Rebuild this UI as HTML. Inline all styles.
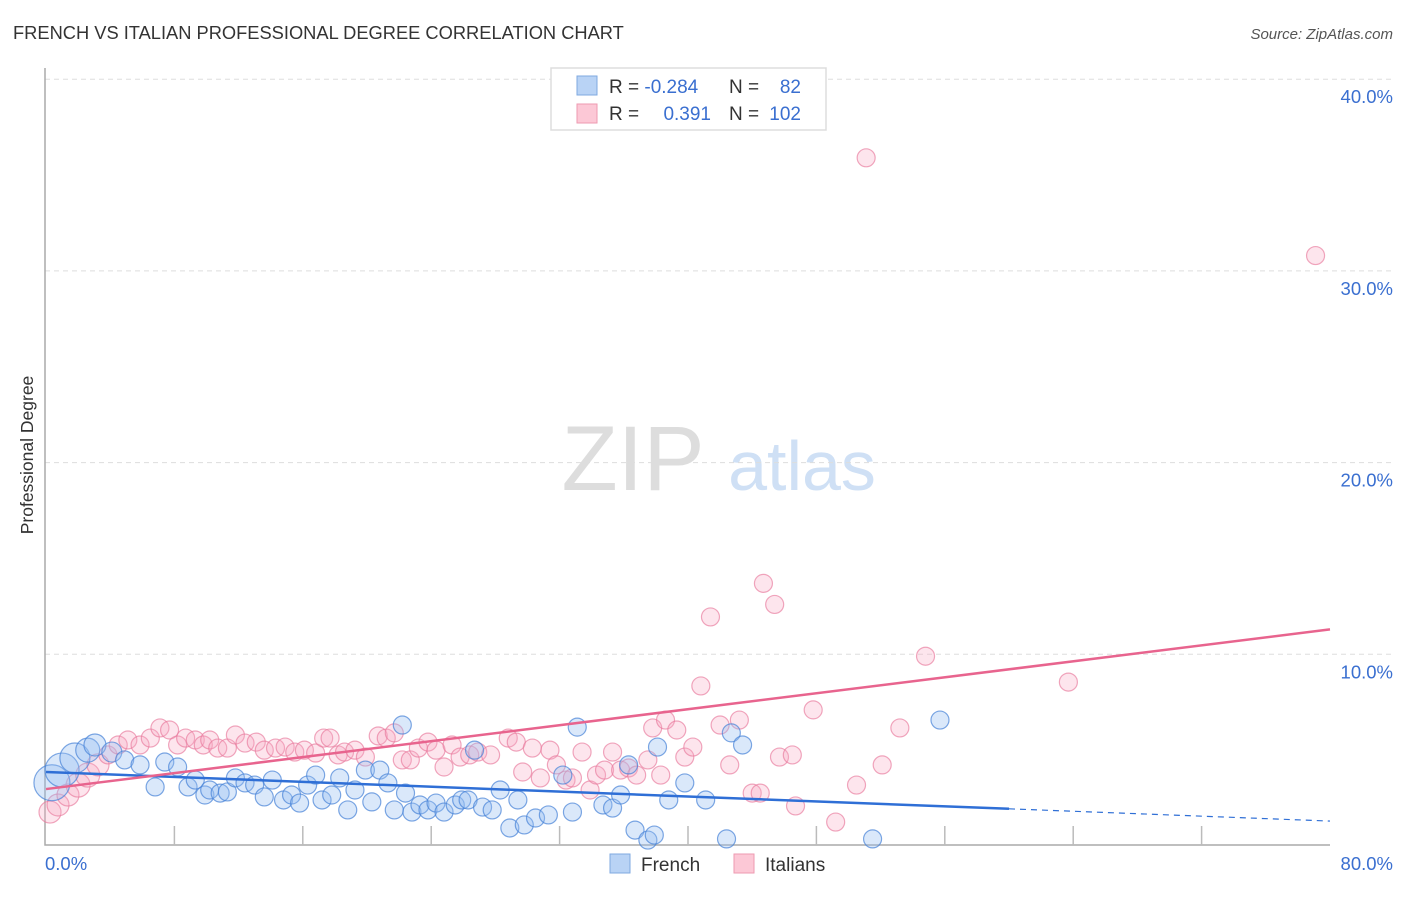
<!DOCTYPE html>
<html><head><meta charset="utf-8">
<style>
body{margin:0;background:#fff;font-family:"Liberation Sans",sans-serif;}
svg text{font-family:"Liberation Sans",sans-serif;}
</style></head>
<body>
<svg id="chart" width="1406" height="892" xmlns="http://www.w3.org/2000/svg">
<text x="13" y="39" font-size="18.3" fill="#333">FRENCH VS ITALIAN PROFESSIONAL DEGREE CORRELATION CHART</text>
<text x="1393" y="39" font-size="15" fill="#555" text-anchor="end" font-style="italic">Source: ZipAtlas.com</text>
<g>
<text x="633" y="490" font-size="92" fill="#ddd" text-anchor="middle" font-family="Liberation Serif">ZIP</text>
<text x="802" y="490" font-size="70" fill="#cfe0f5" text-anchor="middle">atlas</text>
</g>
<g id="grid"></g>
<g id="axes"></g>
<g id="points"></g>
<g id="trends"></g>
<text transform="translate(33,455) rotate(-90)" font-size="17.5" fill="#333" text-anchor="middle">Professional Degree</text>
<g>
<rect x="551" y="68" width="275" height="62" fill="#fff" stroke="#ddd" stroke-width="1.5"/>
<rect x="577" y="76" width="20" height="19" fill="#b9d3f5" stroke="#7fa9e0"/>
<rect x="577" y="104" width="20" height="19" fill="#fcc8d6" stroke="#ee9ab0"/>
<text x="609" y="93" font-size="19" fill="#333">R = <tspan fill="#3a6fd0">-0.284</tspan></text>
<text x="729" y="93" font-size="19" fill="#333">N = </text><text x="801" y="93" font-size="19" fill="#3a6fd0" text-anchor="end">82</text>
<text x="609" y="120" font-size="19" fill="#333">R = </text><text x="711" y="120" font-size="19" fill="#3a6fd0" text-anchor="end">0.391</text>
<text x="729" y="120" font-size="19" fill="#333">N = </text><text x="801" y="120" font-size="19" fill="#3a6fd0" text-anchor="end">102</text>
</g>
<g>
<rect x="610" y="854" width="20" height="19" fill="#b9d3f5" stroke="#7fa9e0"/>
<text x="641" y="871" font-size="19" fill="#333">French</text>
<rect x="734" y="854" width="20" height="19" fill="#fcc8d6" stroke="#ee9ab0"/>
<text x="765" y="871" font-size="19" fill="#333">Italians</text>
</g>
</svg>
<script>
const yTicks=[10,20,30,40];
const yTickLabels=["10.0%","20.0%","30.0%","40.0%"];
const xTickLabels=["0.0%","80.0%"];
const frenchX=[0.37,1.0,1.8,2.6,3.05,4.1,4.9,5.86,6.8,7.4,8.2,8.85,9.3,9.9,10.2,10.85,11.3,11.8,12.4,13.0,13.6,14.1,14.8,15.3,15.8,16.3,16.8,17.2,17.8,18.3,18.8,19.25,19.9,20.3,20.8,21.3,21.7,22.2,22.4,22.8,23.3,23.8,24.3,24.8,25.5,25.9,26.3,26.7,27.2,27.8,28.3,28.9,29.4,29.8,30.5,31.3,32.2,32.8,33.1,34.7,35.3,35.8,36.3,36.7,37.5,37.9,38.1,38.8,39.8,41.1,42.4,42.7,43.4,51.5,55.7];
const frenchY=[3.3,3.96,4.59,5.0,5.27,4.9,4.49,4.23,3.08,4.38,4.12,3.08,3.44,2.66,2.92,2.76,2.82,3.55,3.29,3.18,2.56,3.44,2.4,2.66,2.24,3.18,3.7,2.4,2.66,3.55,1.88,2.92,3.96,2.3,3.96,3.29,1.88,6.31,2.76,1.77,2.14,1.88,2.24,1.77,2.14,2.4,2.4,5.0,2.03,1.88,2.92,0.94,2.4,1.1,1.46,1.62,3.7,1.77,6.2,2.14,1.98,2.66,4.23,0.83,0.31,0.57,5.16,2.4,3.29,2.4,0.37,5.9,5.27,0.37,6.57];
const frenchR=[18,17,15,12,11,10];
const italX=[0.25,0.75,1.37,2.0,2.6,3.24,3.86,4.5,5.1,5.86,6.5,7.1,7.7,8.2,8.7,9.3,9.8,10.2,10.7,11.3,11.8,12.4,13.1,13.6,14.3,14.9,15.5,16.1,16.8,17.3,17.7,18.2,18.6,19.25,19.9,20.7,21.2,21.7,22.2,22.7,23.2,23.8,24.3,24.8,25.3,25.8,26.4,26.9,27.7,28.8,29.3,29.7,30.3,30.8,31.4,31.8,32.4,32.8,33.4,33.9,34.3,34.8,35.3,35.8,36.3,36.8,37.5,37.8,38.3,38.6,39.3,39.8,40.3,40.8,41.4,42.0,42.6,43.2,44.0,44.5,44.7,45.4,45.7,46.5,46.7,47.8,49.2,50.5,51.1,52.1,53.2,54.8,63.7,79.1];
const italY=[1.77,2.14,2.66,3.18,3.7,4.23,4.75,5.27,5.53,5.27,5.63,6.16,6.05,5.27,5.63,5.53,5.27,5.53,5.11,5.11,5.79,5.37,5.42,5.0,5.11,5.16,4.9,5.0,4.85,5.63,5.63,4.75,4.9,5.0,4.64,5.74,5.63,5.9,4.49,4.49,5.11,5.42,5.0,4.12,5.27,4.64,4.75,4.9,4.75,5.63,5.42,3.86,5.11,3.55,5.0,4.23,3.44,3.55,4.9,2.92,3.7,3.96,4.9,3.96,4.07,3.7,4.49,6.16,3.7,6.57,6.05,4.64,5.16,8.35,11.95,6.31,4.23,6.57,2.76,2.76,13.7,12.6,4.64,4.75,2.09,7.1,1.25,3.18,35.9,4.23,6.16,9.9,8.55,30.8];
const italR=[11,11,11,12,12,11];
const frenchTrend=[3.86,1.30];
const italTrend=[2.97,11.3];
const frenchSolidEnd=60;

const NS="http://www.w3.org/2000/svg";
const X0=46,X1=1330,Y0=846,PPY=19.17;
function sx(v){return X0+(v/80)*(X1-X0);}
function sy(v){return Y0-v*PPY;}
function mk(tag,attrs,parent){const e=document.createElementNS(NS,tag);for(const k in attrs)e.setAttribute(k,attrs[k]);parent.appendChild(e);return e;}
const grid=document.getElementById('grid'),axes=document.getElementById('axes'),pts=document.getElementById('points'),tr=document.getElementById('trends');
yTicks.forEach((t,i)=>{
  const l=mk('line',{x1:45,x2:1393,y1:sy(t),y2:sy(t),stroke:'#ddd','stroke-dasharray':'5,4'},grid);
  
  
  const tx=mk('text',{x:1393,y:sy(t)+24,'font-size':18.5,fill:'#3a6fd0','text-anchor':'end'},axes);
  tx.textContent=yTickLabels[i];
  
  
});
const ax=mk('path',{d:'M45,68 V845 H1330',fill:'none',stroke:'#aaa','stroke-width':1.5},axes);


for(let i=1;i<10;i++){
  const t=mk('line',{x1:sx(i*8),x2:sx(i*8),y1:826,y2:845,stroke:'#bbb','stroke-width':1.5},axes);
  
  
}
const xl0=mk('text',{x:45,y:870,'font-size':18.5,fill:'#3a6fd0'},axes);xl0.textContent=xTickLabels[0];


const xl1=mk('text',{x:1393,y:870,'font-size':18.5,fill:'#3a6fd0','text-anchor':'end'},axes);xl1.textContent=xTickLabels[1];


italX.forEach((v,i)=>{
  const c=mk('circle',{cx:sx(v),cy:sy(italY[i]),r:italR[i]||9,fill:'rgba(248,170,195,0.3)',stroke:'rgba(232,120,155,0.65)','stroke-width':1.2},pts);
  
  
});
frenchX.forEach((v,i)=>{
  const c=mk('circle',{cx:sx(v),cy:sy(frenchY[i]),r:frenchR[i]||9,fill:'rgba(150,190,240,0.35)',stroke:'rgba(70,130,215,0.7)','stroke-width':1.2},pts);
  
  
});
function ty(t,x){return t[0]+(t[1]-t[0])*x/80;}
const fl=mk('line',{x1:sx(0),y1:sy(ty(frenchTrend,0)),x2:sx(frenchSolidEnd),y2:sy(ty(frenchTrend,frenchSolidEnd)),stroke:'#2f6fd6','stroke-width':2.5},tr);


const fd=mk('line',{x1:sx(frenchSolidEnd),y1:sy(ty(frenchTrend,frenchSolidEnd)),x2:sx(80),y2:sy(ty(frenchTrend,80)),stroke:'#2f6fd6','stroke-width':1.2,'stroke-dasharray':'6,5'},tr);


const il=mk('line',{x1:sx(0),y1:sy(ty(italTrend,0)),x2:sx(80),y2:sy(ty(italTrend,80)),stroke:'#e8648e','stroke-width':2.5},tr);


</script>
</body></html>
